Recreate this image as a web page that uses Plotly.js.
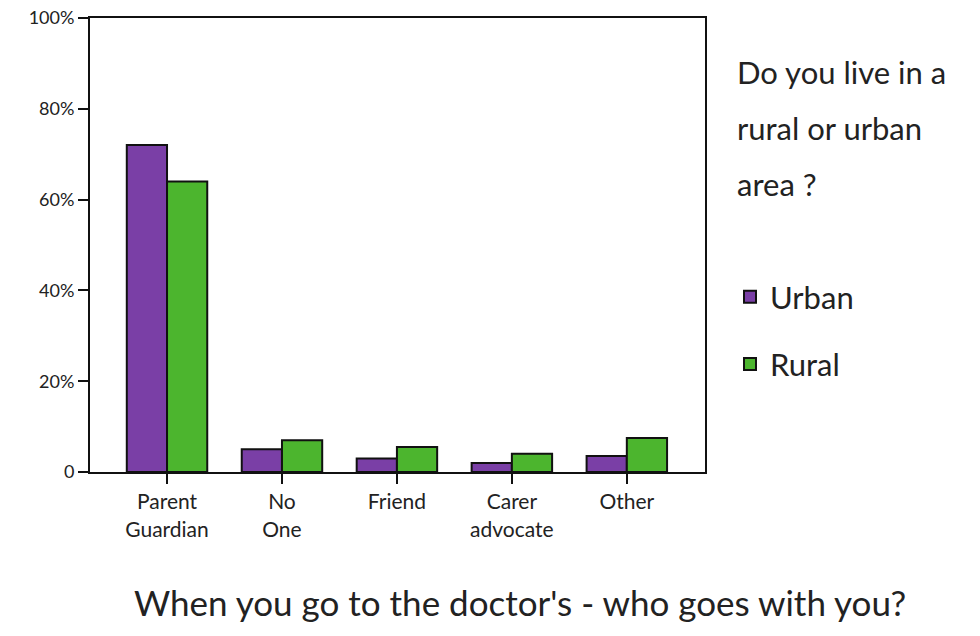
<!DOCTYPE html>
<html>
<head>
<meta charset="utf-8">
<script src="https://cdn.plot.ly/plotly-3.0.1.min.js"></script>
<style>html,body{margin:0;padding:0;background:#fff;}#chart{width:980px;height:636px;}</style>
</head>
<body>
<div id="chart"></div>
<script>
var categories = ["Parent<br>Guardian", "No<br>One", "Friend", "Carer<br>advocate", "Other"];
var urbanValues = [72, 5, 3, 2, 3.5];
var ruralValues = [64, 7, 5.5, 4, 7.5];
var yTickValues = [0, 20, 40, 60, 80, 100];
var yTickLabels = ["0", "20%", "40%", "60%", "80%", "100%"];
var legendTitleLines = ["Do you live in a", "rural or urban", "area ?"];
var bottomTitle = "When you go to the doctor's - who goes with you?";

var FONT = "Lato, 'Open Sans', sans-serif";
var L = 90, R = 275, T = 18, B = 164;
var plotW = 980 - L - R, plotH = 636 - T - B;
function px2x(px) { return (px - L) / plotW; }
function py2y(py) { return (636 - B - py) / plotH; }

var traces = [
  {type: "bar", name: "Urban", x: categories, y: urbanValues, legendgroup: "u",
   marker: {color: "#7a3fa6", line: {color: "#111", width: 2}}},
  {type: "bar", name: "Rural", x: categories, y: ruralValues, legendgroup: "r",
   marker: {color: "#4cb52e", line: {color: "#111", width: 2}}}
];

var annotations = legendTitleLines.map(function (t, i) {
  return {text: t, xref: "paper", yref: "paper", x: px2x(735), y: py2y(72 + i * 56),
          xanchor: "left", yanchor: "middle", showarrow: false,
          font: {family: FONT, size: 31, color: "#222"}};
});
annotations.push({text: bottomTitle, xref: "paper", yref: "paper", x: px2x(520), y: py2y(602),
  xanchor: "center", yanchor: "middle", showarrow: false,
  font: {family: FONT, size: 35, color: "#222"}});

var layout = {
  width: 980, height: 636,
  margin: {l: L, r: R, t: T, b: B},
  paper_bgcolor: "#fff", plot_bgcolor: "#fff",
  barmode: "group", bargap: 0.3, bargroupgap: 0,
  showlegend: true,
  legend: {x: px2x(730), y: py2y(270), xanchor: "left", yanchor: "top",
           traceorder: "grouped", tracegroupgap: 24,
           font: {family: FONT, size: 31, color: "#222"}, bgcolor: "rgba(0,0,0,0)"},
  xaxis: {
    type: "category", range: [-0.67, 4.68],
    showline: true, linecolor: "#111", linewidth: 2, mirror: true,
    ticks: "outside", ticklen: 10, tickwidth: 2, tickcolor: "#111",
    tickfont: {family: FONT, size: 21, color: "#222"},
    showgrid: false, zeroline: false, fixedrange: true
  },
  yaxis: {
    range: [0, 100], tickvals: yTickValues, ticktext: yTickLabels,
    showline: true, linecolor: "#111", linewidth: 2, mirror: true,
    ticks: "outside", ticklen: 10, tickwidth: 2, tickcolor: "#111",
    tickfont: {family: FONT, size: 18, color: "#222"},
    showgrid: false, zeroline: false, fixedrange: true
  },
  annotations: annotations
};

Plotly.newPlot("chart", traces, layout, {displayModeBar: false, staticPlot: true});
</script>
</body>
</html>
